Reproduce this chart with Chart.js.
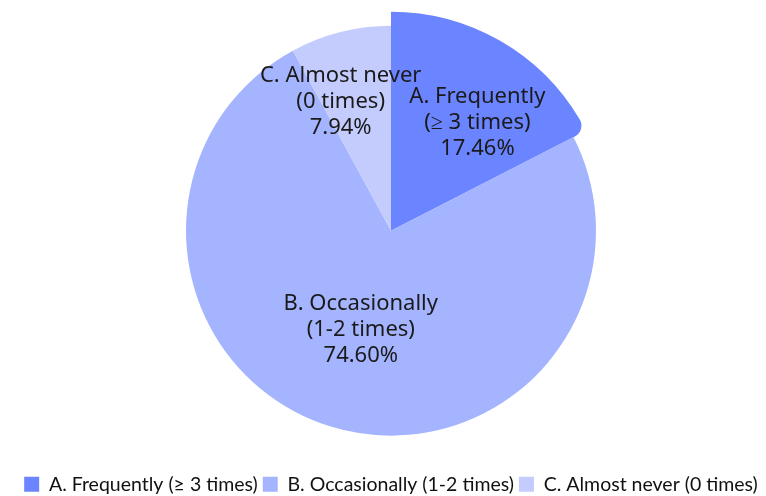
<!DOCTYPE html>
<html>
<head>
<meta charset="utf-8">
<script src="https://cdn.jsdelivr.net/npm/chart.js@4.4.0/dist/chart.umd.min.js"></script>
<style>
  html, body { margin: 0; padding: 0; background: #fff; overflow: hidden; }
  #wrap { position: relative; width: 766px; height: 496px; }
  #wrap canvas { display: block; }
  #cap {
    position: absolute; right: 1px; top: -22px; line-height: 21px; white-space: nowrap;
    font-family: "Liberation Serif", serif; font-size: 21px; color: #111;
  }
</style>
</head>
<body>
<div id="wrap">
  <canvas id="pie" width="766" height="496"></canvas>
  <div id="cap">the roles of ICT in managing the classroom and promoting teaching and learning.</div>
</div>
<script>
// categories + values
const categories = ["A. Frequently (≥ 3 times)", "B. Occasionally (1-2 times)", "C. Almost never (0 times)"]
const sliceLines = [["A. Frequently", "(≥ 3 times)"], ["B. Occasionally", "(1-2 times)"], ["C. Almost never", "(0 times)"]]
const shares = [17.46, 74.60, 7.94]
const colors = ["#6b84ff", "#a5b4ff", "#c4ccfe"]

// A is drawn a bit bigger than the others
const growSlice = {
    id: "growSlice",
    afterDatasetsUpdate(chart) {
        const arc = chart.getDatasetMeta(0).data[0]
        arc.outerRadius = arc.outerRadius + 14
    }
}

// text inside the slices
const sliceText = {
    id: "sliceText",
    afterDatasetsDraw(chart) {
        const ctx = chart.ctx
        const meta = chart.getDatasetMeta(0)
        const place = [[0.68, 0.12], [0.5, 0], [0.68, -0.12]] // radius factor, angle shift
        ctx.save()
        ctx.font = "22px 'Noto Sans'"
        ctx.fillStyle = "#1a1a1a"
        ctx.textAlign = "center"
        ctx.textBaseline = "middle"
        meta.data.forEach((arc, i) => {
            const mid = (arc.startAngle + arc.endAngle) / 2 + place[i][1]
            const r = 205 * place[i][0]
            const x = arc.x + Math.cos(mid) * r
            const y = arc.y + Math.sin(mid) * r
            const lines = sliceLines[i].concat([shares[i].toFixed(2) + "%"])
            lines.forEach((t, k) => {
                ctx.fillText(t, x, y + (k - 1) * 26 + 1)
            })
        })
        ctx.restore()
    }
}

new Chart(document.getElementById("pie"), {
    type: "pie",
    data: {
        labels: categories,
        datasets: [{
            data: shares,
            backgroundColor: colors,
            borderWidth: 0,
            radius: 205,
            borderRadius: [{outerStart: 0, outerEnd: 12, innerStart: 0, innerEnd: 0}, 0, 0]
        }]
    },
    options: {
        responsive: false,
        animation: false,
        layout: { padding: { top: 0, bottom: -8, left: 16, right: 0 } },
        plugins: {
            tooltip: { enabled: false },
            legend: {
                position: "bottom",
                // empty title only adds a gap above the legend row
                title: { display: true, text: "", font: { size: 1 }, padding: { top: 7, bottom: 0 } },
                labels: {
                    font: { family: "Lato", size: 19.5 },
                    color: "#111",
                    boxWidth: 15,
                    boxHeight: 15,
                    padding: 5
                }
            }
        }
    },
    plugins: [growSlice, sliceText]
})
</script>
</body>
</html>
